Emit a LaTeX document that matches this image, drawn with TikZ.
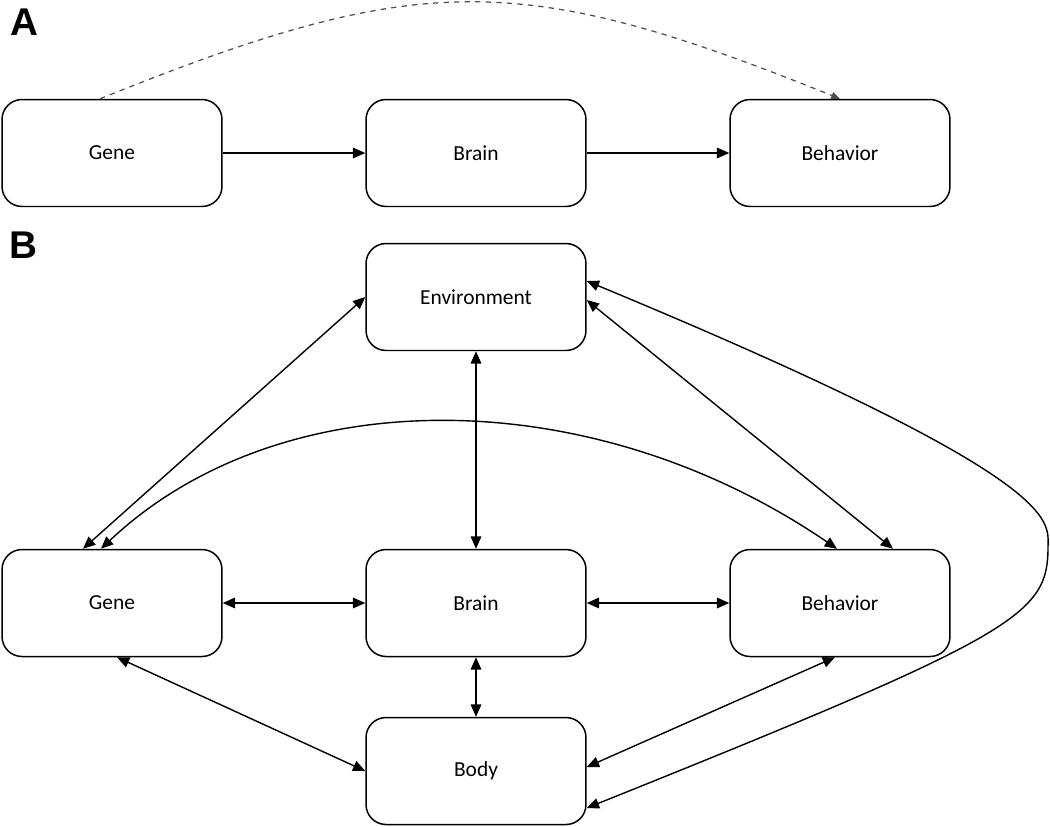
\documentclass[tikz,border=0pt]{standalone}
\usepackage{fontspec}
\setmainfont{Carlito}
\newfontfamily\panelfont{Liberation Sans}
\usetikzlibrary{arrows.meta}

\tikzset{
  box/.style={draw, rounded corners=0.4cm, line width=0.85pt, minimum width=4.4cm, minimum height=2.14cm, font=\fontsize{12.2}{14}\selectfont},
  panel/.style={font=\panelfont\bfseries\fontsize{22}{24}\selectfont},
  link/.style={line width=0.8pt, {Triangle[length=7pt,width=6pt]}-{Triangle[length=7pt,width=6pt]}},
  onelink/.style={line width=0.8pt, -{Triangle[length=7pt,width=6pt]}},
}

\begin{document}
\begin{tikzpicture}[x=0.02cm, y=-0.02cm]
		%%%%% START %%%%%
		\useasboundingbox (0, 0) rectangle (1050, 826);
		
		% panel A
		\node[panel] (labA) at (24, 22) {A};
		\node[box] (geneA) at (112, 153) {Gene};
		\node[box] (brainA) at (476, 153) {Brain};
		\node[box] (behaviorA) at (840, 153) {Behavior};
		
		\draw[onelink] (geneA) -- (brainA);
		\draw[onelink] (brainA) -- (behaviorA);
		\draw[line width=0.7pt, dashed, color=black!70, -{Triangle[length=5pt,width=4pt]}] ([xshift=-0.24cm]geneA.north) .. controls (420, -30) and (520, -30) .. (behaviorA.north);
		
		% panel B
		\node[panel] (labB) at (23, 245) {B};
		\node[box] (envB) at (476, 297) {Environment};
		\node[box] (geneB) at (112, 603) {Gene};
		\node[box] (brainB) at (476, 603) {Brain};
		\node[box] (behaviorB) at (840, 603) {Behavior};
		\node[box] (bodyB) at (476, 771) {Body};
		\coordinate (turn) at (1048, 547);
		
		\draw[link] (geneB) -- (brainB);
		\draw[link] (brainB) -- (behaviorB);
		\draw[link] (envB) -- (brainB);
		\draw[link] (brainB) -- (bodyB);
		
		\draw[link] (envB.west) -- ([xshift=-0.58cm]geneB.north);
		\draw[link] ([yshift=-0.06cm]envB.east) -- ([xshift=1.06cm]behaviorB.north);
		\draw[link] ([xshift=0.1cm]geneB.south) -- (bodyB.west);
		\draw[link] ([yshift=0.08cm]bodyB.east) -- ([xshift=-0.1cm]behaviorB.south);
		
		\draw[link] ([xshift=-0.22cm]geneB.north) .. controls (280, 380) and (590, 380) .. ([xshift=-0.06cm]behaviorB.north);
		\draw[link] ([yshift=0.32cm]envB.east) .. controls +(480, 199) and +(0, -27) .. (turn)
		  .. controls +(0, 68) and +(431, -173) .. ([yshift=-0.74cm]bodyB.east);
		
		%%%%% END %%%%%
\end{tikzpicture}
\end{document}
